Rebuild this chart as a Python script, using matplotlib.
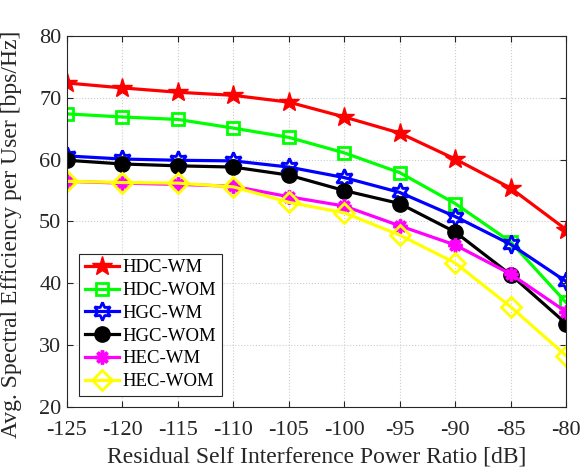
import matplotlib.pyplot as plt

plt.rcParams['font.family'] = ['Liberation Serif', 'DejaVu Serif']
plt.rcParams['mathtext.fontset'] = 'stix'

x = [-125, -120, -115, -110, -105, -100, -95, -90, -85, -80]

hdc_wm = [72.4, 71.6, 70.9, 70.4, 69.3, 66.9, 64.3, 60.1, 55.4, 48.7]
hdc_wom = [67.4, 66.9, 66.5, 65.1, 63.6, 61.1, 57.9, 52.9, 46.7, 36.9]
hgc_wm = [60.6, 60.1, 59.9, 59.8, 58.8, 57.1, 54.7, 50.8, 46.3, 40.3]
hgc_wom = [59.9, 59.3, 59.0, 58.8, 57.5, 55.0, 52.9, 48.3, 41.4, 33.5]
hec_wm = [56.5, 56.2, 56.0, 55.7, 54.0, 52.5, 49.3, 46.2, 41.5, 35.4]
hec_wom = [56.5, 56.3, 56.2, 55.6, 53.1, 51.4, 47.8, 43.3, 36.2, 28.3]

fig = plt.figure(figsize=(5.81, 4.74), dpi=100)
ax = fig.add_axes([0.1153, 0.1414, 0.859, 0.7827])

lw = 2.3
ax.plot(x, hdc_wm, color='red', marker='*', markersize=15, linewidth=lw, label='HDC-WM')
ax.plot(x, hdc_wom, color='#00ff00', marker='s', markersize=9, mfc='none', mew=2, linewidth=lw, label='HDC-WOM')
ax.plot(x, hgc_wm, color='blue', marker=(6, 1, 0), markersize=13, mfc='none', mew=2, linewidth=lw, label='HGC-WM')
ax.plot(x, hgc_wom, color='black', marker='o', markersize=11, linewidth=lw, label='HGC-WOM')
ax.plot(x, hec_wm, color='magenta', marker=(8, 2, 0), markersize=10, mew=2.5, linewidth=lw, label='HEC-WM')
ax.plot(x, hec_wom, color='yellow', marker='D', markersize=10, mfc='none', mew=2, linewidth=lw, label='HEC-WOM')

ax.set_xlim(-125, -80)
ax.set_ylim(20, 80)
ax.set_xticks(x)
ax.set_xticklabels(['-125', '-120', '-115', '-110', '-105', '-100', '-95', '-90', '-85', '-80'])
ax.set_yticks([20, 30, 40, 50, 60, 70, 80])
ax.tick_params(direction='in', labelsize=16, length=4, colors='#262626', top=True, right=True)
ax.tick_params(axis='x', pad=10)
ax.tick_params(axis='y', pad=4)
ax.grid(True, linestyle=':', color='#cccccc', linewidth=0.8)
for s in ax.spines.values():
    s.set_color('#262626')
ax.set_xlabel('Residual Self Interference Power Ratio [dB]', fontsize=17, color='#262626', labelpad=5)
ax.set_ylabel('Avg. Spectral Efficiency per User [bps/Hz]', fontsize=17, color='#262626')
ax.yaxis.set_label_coords(-0.09, 0.465)

leg = ax.legend(loc='lower left', bbox_to_anchor=(0.025, 0.03), fontsize=13.5, fancybox=False,
                edgecolor='#262626', framealpha=1, borderpad=0.3, labelspacing=0.3,
                handlelength=1.8, handletextpad=0.2, borderaxespad=0)
leg.get_frame().set_linewidth(0.8)

fig.savefig('out.png', dpi=100)
